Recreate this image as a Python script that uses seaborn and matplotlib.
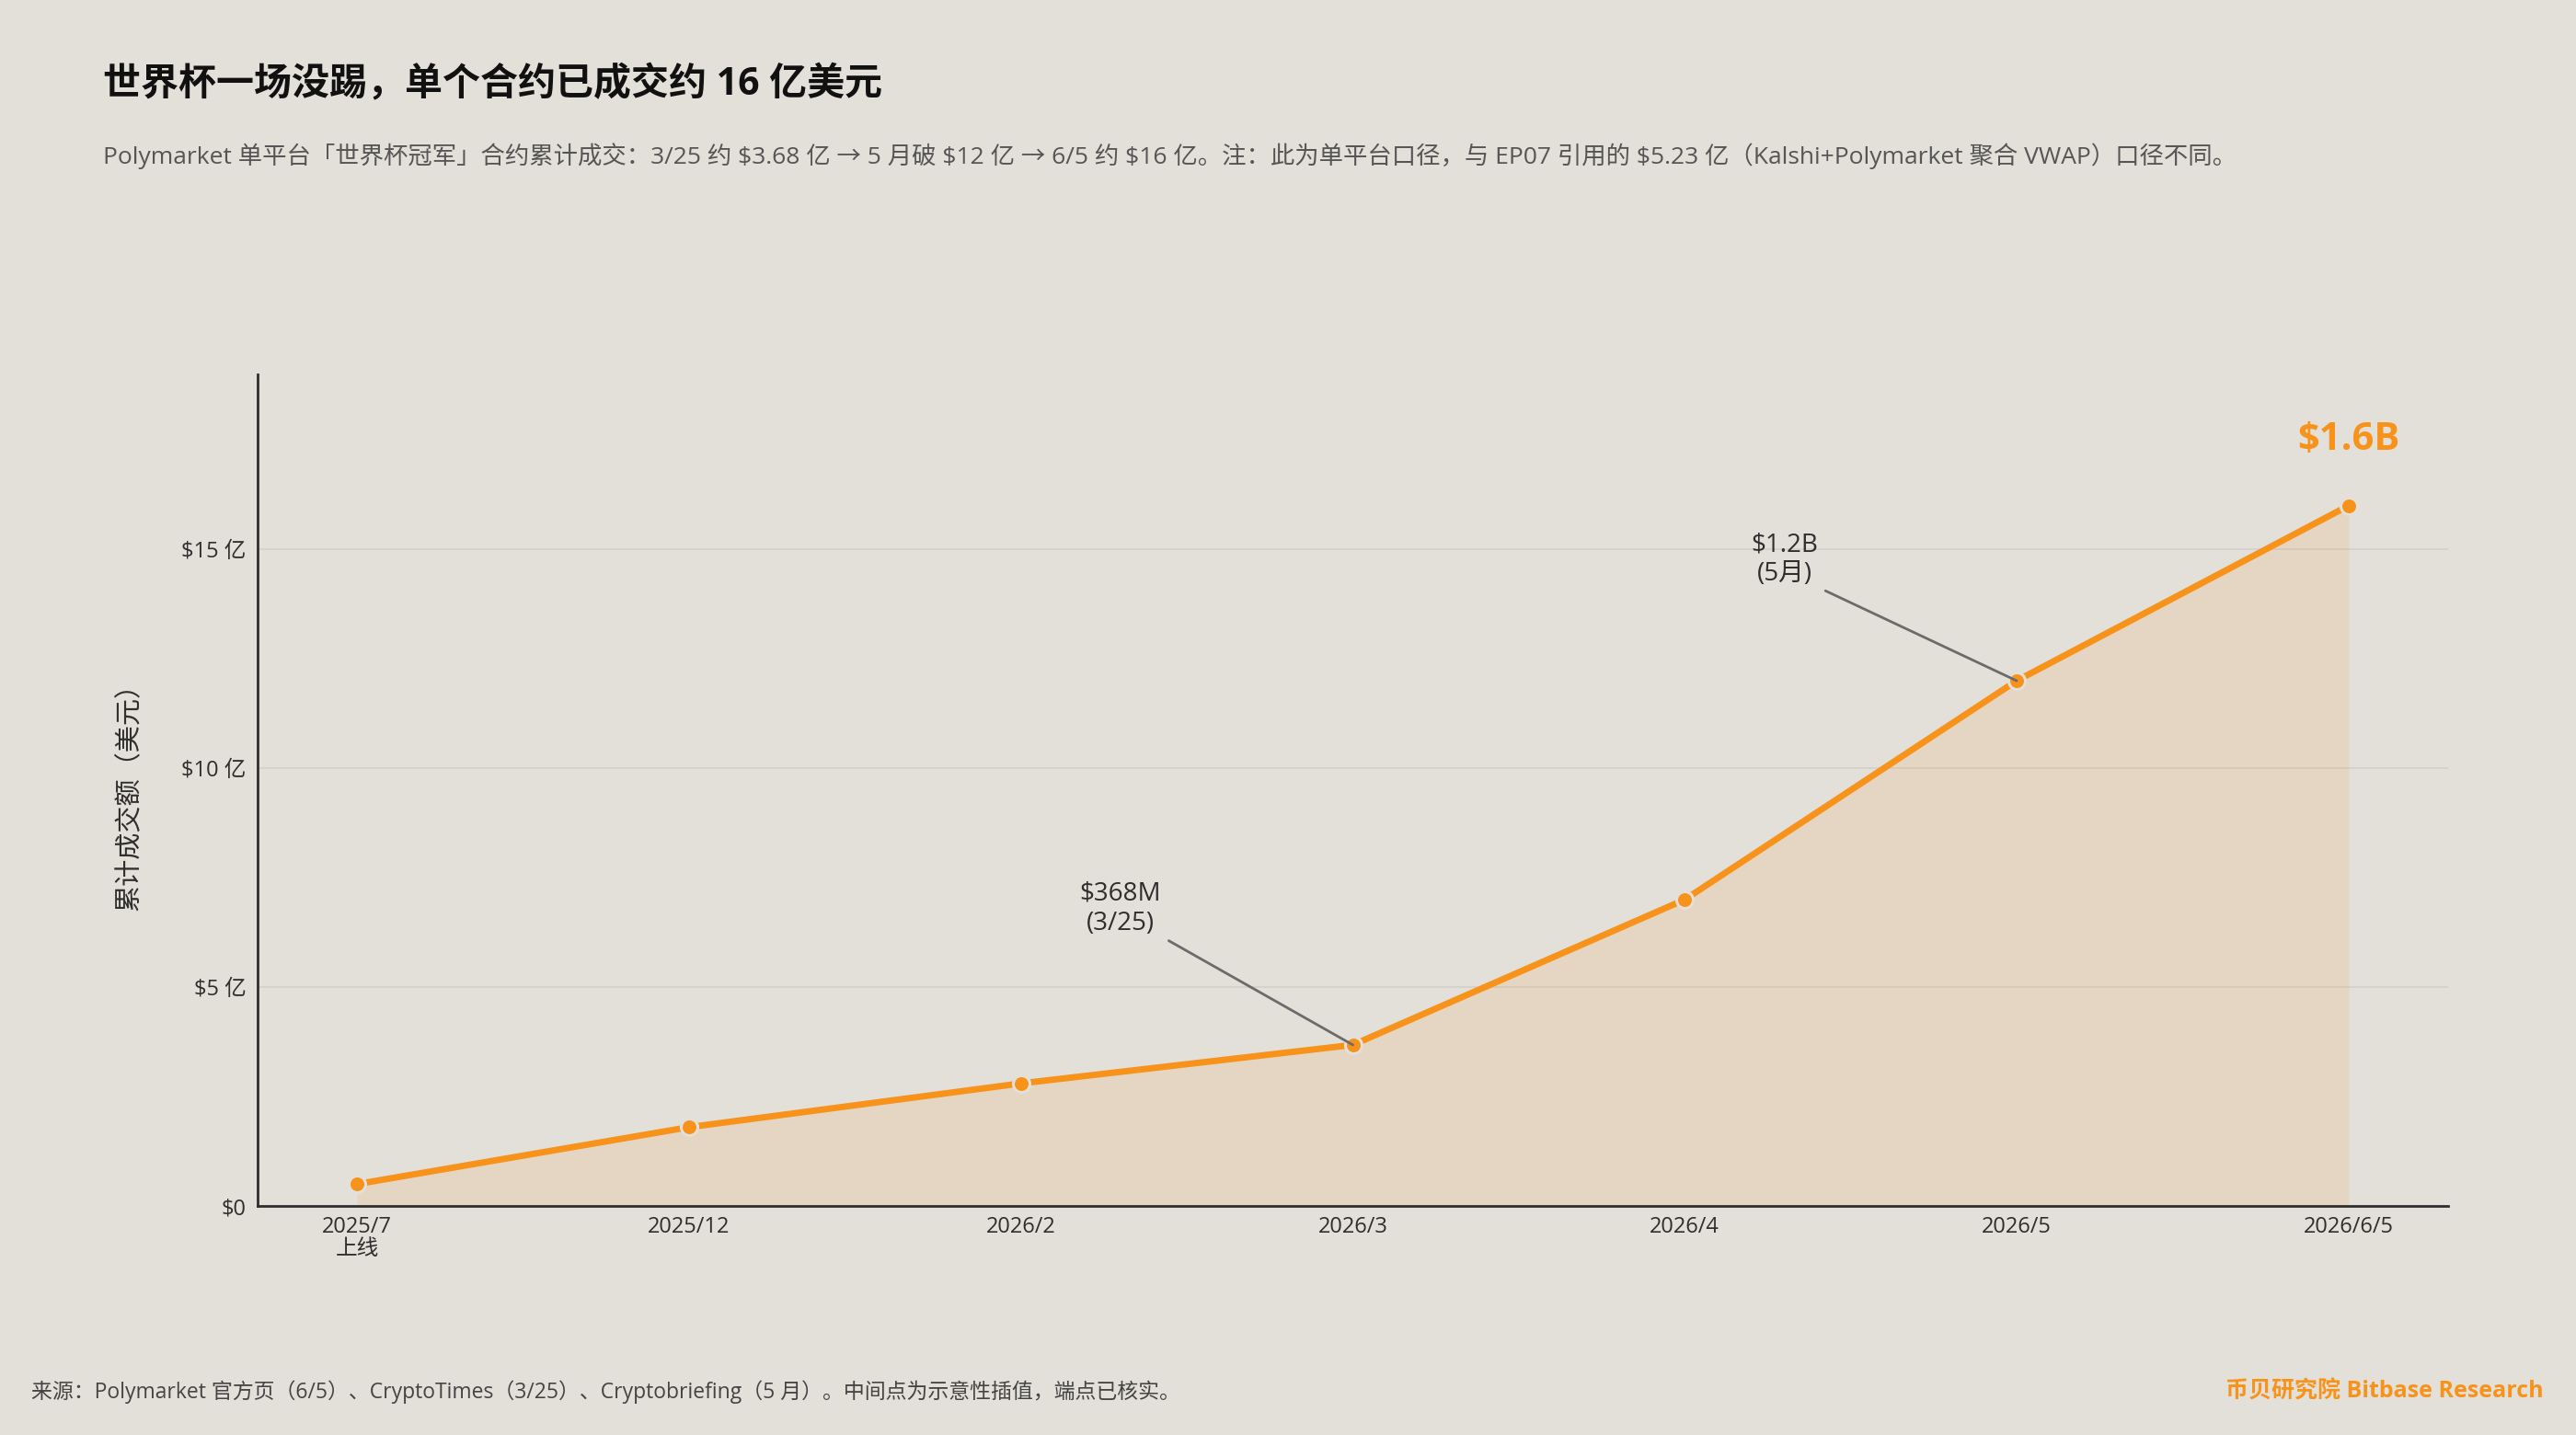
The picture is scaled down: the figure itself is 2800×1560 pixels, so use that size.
import matplotlib
matplotlib.use("Agg")
import matplotlib.pyplot as plt
import seaborn as sns
import pandas as pd
import numpy as np

# ---- data ----
periods = ["2025/7\n上线", "2025/12", "2026/2", "2026/3", "2026/4", "2026/5", "2026/6/5"]
volume_yi = [0.5, 1.8, 2.8, 3.68, 7.0, 12.0, 16.0]   # 亿美元
y_ticks = [0, 5, 10, 15]
y_tick_labels = ["$0", "$5 亿", "$10 亿", "$15 亿"]

title = "世界杯一场没踢，单个合约已成交约 16 亿美元"
subtitle = (r"Polymarket 单平台「世界杯冠军」合约累计成交：3/25 约 \$3.68 亿 → 5 月破 \$12 亿 → 6/5 约 \$16 亿。"
            r"注：此为单平台口径，与 EP07 引用的 \$5.23 亿（Kalshi+Polymarket 聚合 VWAP）口径不同。")
footer = "来源：Polymarket 官方页（6/5）、CryptoTimes（3/25）、Cryptobriefing（5 月）。中间点为示意性插值，端点已核实。"
brand = "币贝研究院 Bitbase Research"
ylabel = "累计成交额（美元）"

BG = "#E3DFD9"
ORANGE = "#F7931A"
DARK = "#2E2E2E"

sns.set_theme(style="white")
plt.rcParams["font.family"] = ["Open Sans", "Noto Sans CJK SC", "DejaVu Sans"]
plt.rcParams["axes.unicode_minus"] = False

W, H = 2800, 1560
fig = plt.figure(figsize=(28, 15.6), dpi=100, facecolor=BG)
ax = fig.add_axes([280 / W, 1 - 1311 / H, (2661 - 280) / W, (1311 - 407) / H])
ax.set_facecolor(BG)

df = pd.DataFrame({"idx": np.arange(len(periods)), "v": volume_yi})
ax.fill_between(df["idx"], df["v"], 0, color=ORANGE, alpha=0.11, lw=0, zorder=1)
sns.lineplot(data=df, x="idx", y="v", ax=ax, color=ORANGE, lw=5, zorder=3,
             marker="o", markersize=13, markeredgecolor=BG, markeredgewidth=2.2,
             markerfacecolor=ORANGE)

ax.set_xlim(-0.3, len(periods) - 0.7)
ax.set_ylim(0, 19)
ax.set_xticks(df["idx"])
ax.set_xticklabels(periods, fontsize=17, color=DARK, linespacing=1.0)
ax.set_yticks(y_ticks)
ax.set_yticklabels(y_tick_labels, fontsize=17, color=DARK)
ax.tick_params(axis="both", length=0)
ax.tick_params(axis="x", pad=8)
ax.tick_params(axis="y", pad=9)
ax.grid(axis="y", color="#D3CFC9", lw=1.2)
ax.grid(axis="x", visible=False)
for s in ["top", "right"]:
    ax.spines[s].set_visible(False)
for s in ["left", "bottom"]:
    ax.spines[s].set_color(DARK)
    ax.spines[s].set_linewidth(2)
ax.set_xlabel("")
ax.set_ylabel(ylabel, fontsize=21, color=DARK)
ax.yaxis.set_label_coords(-0.052, 0.5)

# annotations
arrow = dict(arrowstyle="-", color="#6B6B6B", lw=2, shrinkA=4, shrinkB=0, relpos=(1, 0))
ax.annotate("$368M\n(3/25)", xy=(3, volume_yi[3]), xytext=(2.30, 6.79),
            ha="center", va="center", fontsize=20, color=DARK, linespacing=1.2,
            arrowprops=arrow, zorder=4)
ax.annotate("$1.2B\n(5月)", xy=(5, volume_yi[5]), xytext=(4.30, 14.77),
            ha="center", va="center", fontsize=20, color=DARK, linespacing=1.2,
            arrowprops=arrow, zorder=4)
ax.text(6, 17.5, "$1.6B", ha="center", va="center", fontsize=30,
        fontweight="bold", color=ORANGE)

# figure texts
fig.text(112 / W, 1 - 93 / H, title, ha="left", va="center", fontsize=29.5,
         fontweight="bold", color="#111111")
fig.text(112 / W, 1 - 170 / H, subtitle, ha="left", va="center", fontsize=19,
         color="#555555")
fig.text(34 / W, 1 - 1513 / H, footer, ha="left", va="center", fontsize=16.5,
         color="#444444")
fig.text(2765 / W, 1 - 1513 / H, brand, ha="right", va="center", fontsize=18,
         fontweight="bold", color=ORANGE)

fig.savefig("out.png", dpi=100, facecolor=BG)
